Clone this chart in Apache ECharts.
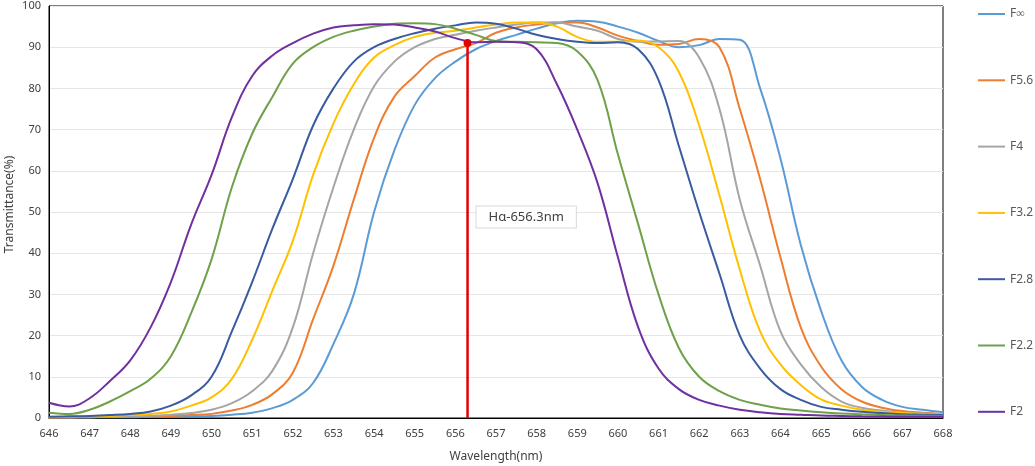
<!DOCTYPE html>
<html>
<head>
<meta charset="utf-8">
<script src="https://cdn.jsdelivr.net/npm/echarts@6/dist/echarts.min.js"></script>
<style>
  html, body { margin: 0; padding: 0; background: #fff; }
  #chart { width: 1035px; height: 466px; }
</style>
</head>
<body>
<div id="chart"></div>
<script>
  // wavelength samples (nm)
  var wavelengths = [646, 646.5, 647, 647.5, 648, 648.5, 649, 649.5, 650, 650.5, 651, 651.5, 652, 652.5, 653, 653.5,
    654, 654.5, 655, 655.5, 656, 656.5, 657, 657.5, 658, 658.5, 659, 659.5, 660, 660.5, 661, 661.5,
    662, 662.5, 663, 663.5, 664, 664.5, 665, 665.5, 666, 666.5, 667, 667.5, 668]

  var seriesNames = ['F∞', 'F5.6', 'F4', 'F3.2', 'F2.8', 'F2.2', 'F2']
  var seriesColors = ['#5B9BD5', '#ED7D31', '#A5A5A5', '#FFC000', '#3A5BA0', '#6FA04A', '#70309F']

  var fInf = [0.1, 0.1, 0.15, 0.2, 0.2, 0.3, 0.35, 0.4, 0.5, 0.8, 1.3, 2.4, 4.4, 8.5, 18, 30,
    50, 65, 76, 82.5, 86.5, 89.5, 91.5, 93, 94.5, 95.8, 96.4, 96.2, 95, 93.5, 91.5, 90,
    90.5, 92, 91.8, 80, 63, 42, 26, 14, 7.6, 4.4, 2.7, 2, 1.4]
  var f56 = [0.1, 0.15, 0.2, 0.25, 0.3, 0.4, 0.5, 0.7, 1.0, 1.8, 3.2, 5.8, 11, 24, 37, 53,
    68, 78, 83, 87.5, 89.5, 91, 93.5, 94.8, 95.5, 96, 96, 94.8, 92.8, 91.5, 90.6, 90.8,
    92, 90, 75, 58, 39, 22, 12.5, 7, 4, 2.5, 1.7, 1.3, 1.0]
  var f4 = [0.2, 0.2, 0.3, 0.3, 0.4, 0.5, 0.8, 1.2, 2, 3.6, 6.5, 11.5, 22, 40, 56, 70,
    80.5, 86.5, 90, 92, 93, 94, 94.8, 95.5, 96, 96, 95, 94, 92, 91.3, 91.4, 91.5,
    87.5, 75, 53, 37, 21, 13, 7.5, 4, 2.5, 1.8, 1.3, 1.1, 1.0]
  var f32 = [0.2, 0.3, 0.4, 0.5, 0.7, 1.0, 1.6, 3.0, 5, 9.5, 19, 31, 43, 59, 71.5, 81,
    87.5, 90.5, 92.5, 93.5, 94, 94.8, 95.5, 96, 96, 95, 92.5, 91.3, 91.3, 91.6, 90, 84,
    71, 54, 36, 21, 13, 8, 4.5, 3, 2, 1.5, 1.2, 1, 0.9]
  var f28 = [0.3, 0.4, 0.5, 0.7, 1.0, 1.6, 3.0, 5.5, 10, 21, 33, 46, 58, 71, 80, 86.5,
    90, 92, 93.4, 94.5, 95.3, 96, 95.7, 94.5, 93, 92, 91.3, 91, 91.2, 89.5, 82, 66,
    50, 35, 20, 12, 7, 4.4, 2.7, 2, 1.5, 1.2, 0.9, 0.8, 0.7]
  var f22 = [1.3, 1.0, 2.0, 4.0, 6.5, 9.5, 15, 25.5, 38.5, 56, 69, 78, 86, 90, 92.5, 94,
    95, 95.7, 95.8, 95.6, 94.5, 93, 91.5, 91.3, 91.2, 91, 89, 82, 64, 47, 30, 17,
    10, 6.5, 4.4, 3.2, 2.3, 1.8, 1.4, 1.1, 0.9, 0.75, 0.6, 0.55, 0.5]
  var f2 = [3.7, 2.8, 4.8, 9, 14, 22, 33, 47, 59, 73, 83, 88, 91, 93.3, 94.8, 95.3,
    95.6, 95.5, 94.8, 93.8, 92.2, 91.2, 91.3, 91.2, 89.5, 81, 70, 57, 39, 22, 12, 7,
    4.4, 3, 2, 1.4, 1, 0.8, 0.6, 0.5, 0.4, 0.35, 0.3, 0.3, 0.3]

  var haWavelength = 656.3
  var haValue = 91
  var haLabel = 'Hα-656.3nm'

  var font = 'Noto Sans'

  function pairs(values) {
    return wavelengths.map(function (w, i) { return [w, values[i]] })
  }

  var allValues = [fInf, f56, f4, f32, f28, f22, f2]
  var series = allValues.map(function (vals, i) {
    return {
      name: seriesNames[i],
      type: 'line',
      data: pairs(vals),
      smooth: 0.4,
      symbol: 'none',
      z: 2 + i,
      lineStyle: { color: seriesColors[i], width: 2 },
      itemStyle: { color: seriesColors[i] }
    }
  })

  // H-alpha marker line
  series.push({
    name: 'Hα',
    type: 'line',
    data: [[haWavelength, 0], [haWavelength, haValue]],
    symbol: 'circle',
    symbolSize: function (val) { return val[1] > 0 ? 8 : 0 },
    z: 20,
    lineStyle: { color: '#E30000', width: 2.5 },
    itemStyle: { color: '#E30000' }
  })

  var myChart = echarts.init(document.getElementById('chart'))
  var option = {
    animation: false,
    textStyle: { fontFamily: font },
    grid: {
      left: 49,
      top: 6,
      width: 894,
      height: 412,
      containLabel: false,
      outerBoundsMode: 'none',
      show: true,
      borderColor: '#000',
      borderWidth: 1
    },
    legend: {
      data: seriesNames,
      orient: 'vertical',
      left: 973,
      top: 3,
      icon: 'rect',
      itemWidth: 27,
      itemHeight: 2,
      itemGap: 54.3,
      textStyle: { fontFamily: font, fontSize: 12, color: '#595959' }
    },
    xAxis: {
      type: 'value',
      min: 646,
      max: 668,
      interval: 1,
      name: 'Wavelength(nm)',
      nameLocation: 'middle',
      nameGap: 33,
      nameMoveOverlap: false,
      nameTextStyle: { fontFamily: font, fontSize: 12, color: '#404040' },
      axisLine: { show: true, lineStyle: { color: '#000', width: 1 } },
      axisTick: { show: false },
      axisLabel: { fontFamily: font, fontSize: 11, color: '#404040', margin: 10 },
      splitLine: { show: false }
    },
    yAxis: {
      type: 'value',
      min: 0,
      max: 100,
      interval: 10,
      name: 'Transmittance(%)',
      nameLocation: 'middle',
      nameGap: 33,
      nameMoveOverlap: false,
      nameTextStyle: { fontFamily: font, fontSize: 12, color: '#404040', padding: [0, 0, 0, 15] },
      axisLine: { show: true, lineStyle: { color: '#000', width: 1 } },
      axisTick: { show: false },
      axisLabel: { fontFamily: font, fontSize: 11, color: '#404040', margin: 8 },
      splitLine: { lineStyle: { color: '#e6e6e6', width: 1 } }
    },
    series: series
  }
  option && myChart.setOption(option)

  // annotation box, placed through the axis scales
  var boxPos = myChart.convertToPixel({ gridIndex: 0 }, [haWavelength + 0.22, 48.8])
  myChart.setOption({
    graphic: [{
      type: 'text',
      x: boxPos[0],
      y: boxPos[1],
      z: 30,
      style: {
        text: haLabel,
        font: '13px "Noto Sans"',
        fill: '#404040',
        align: 'left',
        verticalAlign: 'middle',
        backgroundColor: '#fff',
        borderColor: '#d9d9d9',
        borderWidth: 1,
        padding: [4, 12, 4, 12]
      }
    }]
  })
  window.addEventListener('resize', myChart.resize)
</script>
</body>
</html>
